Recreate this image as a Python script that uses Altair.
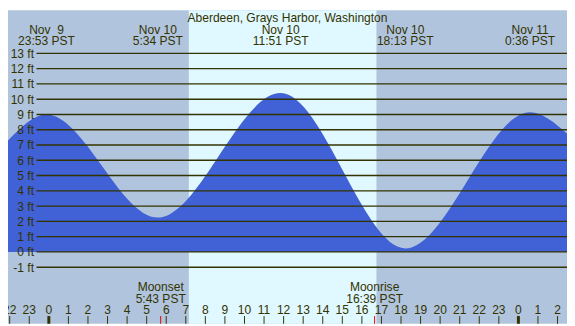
import altair as alt
import pandas as pd

# ---- data ----
title_text = "Aberdeen, Grays Harbor, Washington"
tide_hours = [-2.09, -0.12, 5.57, 11.85, 18.22, 24.60, 26.49]
tide_feet = [7.3, 9.0, 2.25, 10.4, 0.23, 9.15, 7.75]
event_hours = [-0.12, 5.57, 11.85, 18.22, 24.60]
event_dates = ["Nov\u00a0 9", "Nov 10", "Nov 10", "Nov 10", "Nov 11"]
event_times = ["23:53 PST", "5:34 PST", "11:51 PST", "18:13 PST", "0:36 PST"]
day_start, day_end = 7.155, 16.745
moon_hours = [5.717, 16.65]
moon_names = ["Moonset", "Moonrise"]
moon_times = ["5:43 PST", "16:39 PST"]
levels = list(range(-1, 14))
hour_ticks = list(range(-2, 27))

# ---- layout ----
W, H = 567, 318
SX, SY = W / 575, H / 326
XMIN, XMAX = -2.087, 26.484
YMIN, YMAX = -4.704, 15.825
NIGHT = "#B0C4DE"
DAY = "#E0F8FF"
WATER = "#4161D6"
INK = "#333300"
FONT = "Liberation Sans"
FS = 12.2
LH = 11.9 * SY

xs = alt.Scale(domain=[XMIN, XMAX], nice=False, zero=False)
ys = alt.Scale(domain=[YMIN, YMAX], nice=False, zero=False)

bg_df = pd.DataFrame({"a": [XMIN, day_start], "b": [XMAX, day_end], "c": [NIGHT, DAY]})
bg = alt.Chart(bg_df).mark_rect().encode(
    x=alt.X("a:Q", scale=xs, axis=None),
    x2="b:Q",
    y=alt.value(0),
    y2=alt.value(H),
    color=alt.Color("c:N", scale=None),
)

tide_df = pd.DataFrame({"h": tide_hours, "ft": tide_feet})
tide = alt.Chart(tide_df).mark_area(interpolate="monotone", color=WATER, clip=True).encode(
    x=alt.X("h:Q", scale=xs, axis=None),
    y=alt.Y("ft:Q", scale=ys, axis=None),
    y2=alt.value(H),
)

lev_df = pd.DataFrame({"lv": levels, "lab": [f"{v} ft" for v in levels]})
rules = alt.Chart(lev_df).mark_rule(color=INK, strokeWidth=1.4).encode(
    x=alt.value(29.3 * SX),
    x2=alt.value(W),
    y=alt.Y("lv:Q", scale=ys, axis=None),
)
ylabs = alt.Chart(lev_df).mark_text(
    align="right", baseline="middle", font=FONT, fontSize=FS, color=INK, dy=0.5
).encode(
    x=alt.value(26.8 * SX),
    y=alt.Y("lv:Q", scale=ys, axis=None),
    text="lab:N",
)

title = alt.Chart(pd.DataFrame({"t": [title_text]})).mark_text(
    align="center", baseline="alphabetic", font=FONT, fontSize=FS, color=INK
).encode(x=alt.value(W / 2), y=alt.value(12.4 * SY), text="t:N")

ev_df = pd.DataFrame({"h": event_hours, "lab": [d + "\n" + t for d, t in zip(event_dates, event_times)]})
ev = alt.Chart(ev_df).mark_text(
    align="center", baseline="alphabetic", font=FONT, fontSize=FS, color=INK,
    lineBreak="\n", lineHeight=LH
).encode(x=alt.X("h:Q", scale=xs, axis=None), y=alt.value(24.2 * SY), text="lab:N")

moon_df = pd.DataFrame({"h": moon_hours, "lab": [n + "\n" + t for n, t in zip(moon_names, moon_times)]})
mo = alt.Chart(moon_df).mark_text(
    align="center", baseline="alphabetic", font=FONT, fontSize=FS, color=INK,
    lineBreak="\n", lineHeight=LH
).encode(x=alt.X("h:Q", scale=xs, axis=None), y=alt.value(292.2 * SY), text="lab:N")
moon_ticks = alt.Chart(moon_df).mark_rule(color="#E00000", strokeWidth=1).encode(
    x=alt.X("h:Q", scale=xs, axis=None), y=alt.value(318 * SY), y2=alt.value(H)
)

hr_df = pd.DataFrame({
    "h": hour_ticks,
    "lab": [str(v % 24) for v in hour_ticks],
    "w": [3 if v % 24 == 0 else 1 for v in hour_ticks],
})
hr_text = alt.Chart(hr_df).mark_text(
    align="center", baseline="alphabetic", font=FONT, fontSize=FS, color=INK
).encode(x=alt.X("h:Q", scale=xs, axis=None), y=alt.value(316.2 * SY), text="lab:N")
hr_ticks = alt.Chart(hr_df).mark_rule(color=INK).encode(
    x=alt.X("h:Q", scale=xs, axis=None),
    y=alt.value(318 * SY),
    y2=alt.value(H),
    strokeWidth=alt.StrokeWidth("w:Q", scale=None),
)

chart = alt.layer(
    bg, tide, rules, ylabs, title, ev, mo, hr_text, hr_ticks, moon_ticks
).properties(
    width=W, height=H, padding=0, autosize=alt.AutoSizeParams(type="none"), background="white"
).configure_view(stroke=None)

chart.save("out.html", embed_options={"renderer": "svg", "actions": False})
